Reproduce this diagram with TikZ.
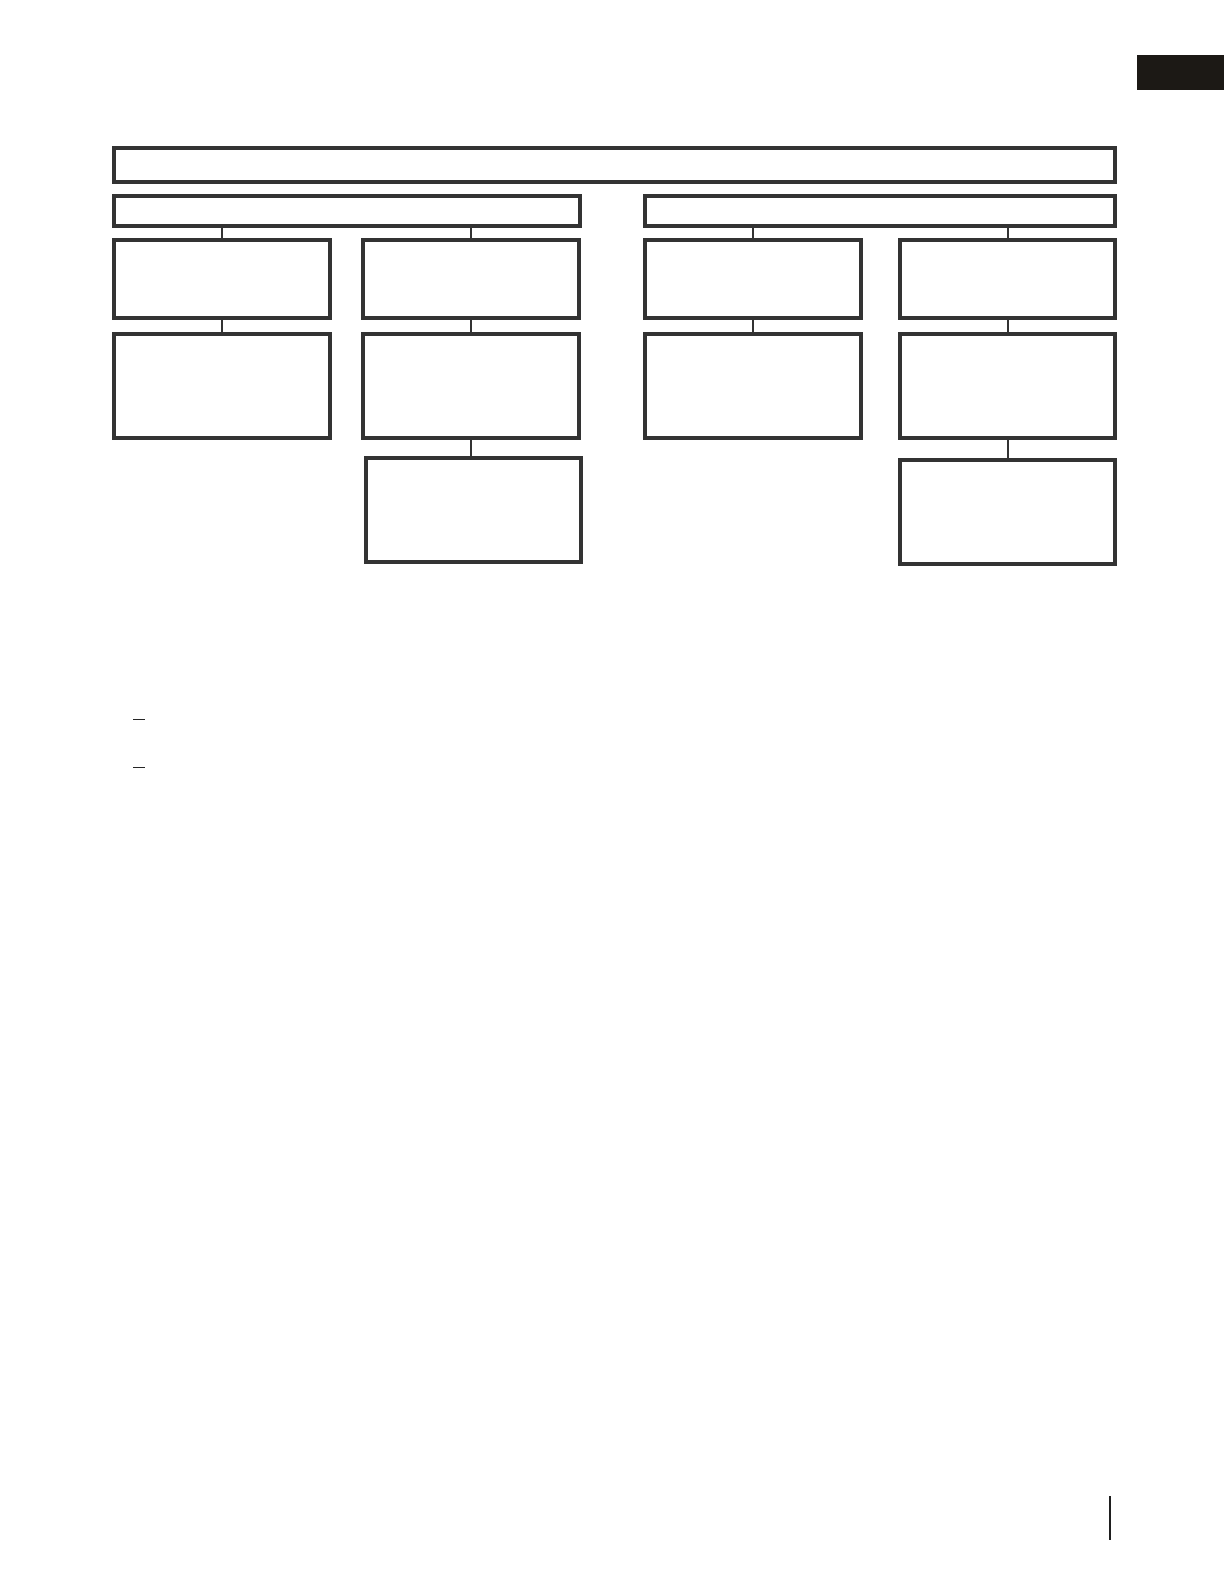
\documentclass[tikz,border=0pt]{standalone}
\usetikzlibrary{positioning}

\definecolor{boxgray}{HTML}{333333}
\definecolor{tabblack}{HTML}{1C1915}

\begin{document}
\begin{tikzpicture}[x=0.5pt, y=-0.5pt,
	box/.style={draw=boxgray, line width=2pt, fill=white, inner sep=0pt, anchor=north west, minimum width=108pt},
	link/.style={draw=boxgray, line width=1pt},
	dashmark/.style={draw=black!85, line width=0.7pt}]

\path [use as bounding box] (0,0) rectangle (1224,1584);

% TAB
\fill [tabblack] (1137,55) rectangle (1224,90);

% TOP
\node [box, minimum width=500.5pt, minimum height=17pt] (top) at (112,146) {};

% HEADERS
\node [box, minimum width=233pt, minimum height=15pt] (headl) at (112,194) {};
\node [box, minimum width=235pt, minimum height=15pt] (headr) at (643,194) {};

% ROW 1
\node [box, minimum height=39pt] (a1) at (112,237.5) {};
\node [box, minimum height=39pt] (b1) at (361,237.5) {};
\node [box, minimum height=39pt] (c1) at (643,237.5) {};
\node [box, minimum height=39pt, minimum width=107.5pt] (d1) at (898,237.5) {};

% ROW 2
\node [box, minimum height=51.75pt, below=6.25pt of a1] (a2) {};
\node [box, minimum height=51.75pt, below=6.25pt of b1] (b2) {};
\node [box, minimum height=51.75pt, below=6.25pt of c1] (c2) {};
\node [box, minimum height=51.75pt, minimum width=107.5pt, below=6.25pt of d1] (d2) {};

% ROW 3
\node [box, minimum height=52pt, minimum width=107.5pt, below=8.25pt of b2, xshift=1pt] (b3) {};
\node [box, minimum height=52pt, minimum width=107.5pt, below=9.25pt of d2] (d3) {};

% LINKS
\draw [link] (a1.north) -- (a1.north |- headl.south);
\draw [link] (b1.north) -- (b1.north |- headl.south);
\draw [link] (c1.north) -- (c1.north |- headr.south);
\draw [link] (d1.north) -- (d1.north |- headr.south);
\draw [link] (a1.south) -- (a2.north);
\draw [link] (b1.south) -- (b2.north);
\draw [link] (c1.south) -- (c2.north);
\draw [link] (d1.south) -- (d2.north);
\draw [link] (b2.south) -- (b2.south |- b3.north);
\draw [link] (d2.south) -- (d3.north);

% DASHES
\draw [dashmark] (133,719.5) -- (145,719.5);
\draw [dashmark] (133,767.5) -- (145,767.5);

% FOOTER RULE
\draw [draw=black!88, line width=1pt] (1110,1496) -- (1110,1540);

\end{tikzpicture}
\end{document}
